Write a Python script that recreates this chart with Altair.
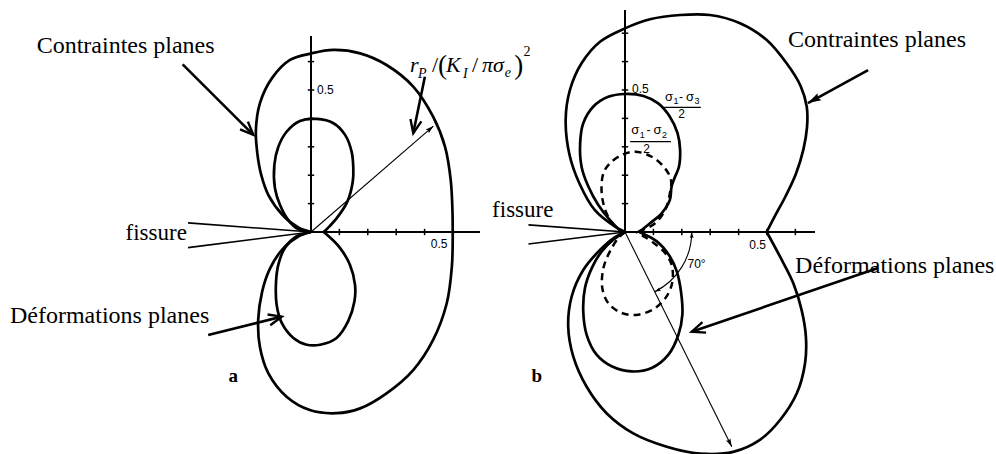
import math
import altair as alt
import pandas as pd

# ---------------------------------------------------------------------------
# Plastic-zone boundaries, r / (K_I / pi sigma_e)^2, one list per half-curve.
# Each half runs from the crack tip round to the point where it meets the
# crack plane again.
# ---------------------------------------------------------------------------
# (a) von Mises -- plane stress (outer) and plane strain (inner)
a_stress_up_x = [0, -0.045, -0.100, -0.150, -0.175, -0.189, -0.194, -0.180, -0.138, -0.074, 0.002,
                 0.079, 0.173, 0.266, 0.360, 0.430, 0.472, 0.492, 0.498, 0.499]
a_stress_up_y = [0, 0.016, 0.060, 0.130, 0.200, 0.277, 0.359, 0.453, 0.541, 0.606, 0.629,
                 0.641, 0.629, 0.588, 0.512, 0.406, 0.300, 0.183, 0.077, 0]
a_stress_lo_x = [0, -0.045, -0.100, -0.145, -0.172, -0.186, -0.180, -0.150, -0.086, -0.004,
                 0.090, 0.173, 0.266, 0.360, 0.430, 0.478, 0.496, 0.499]
a_stress_lo_y = [0, -0.016, -0.060, -0.130, -0.210, -0.310, -0.404, -0.498, -0.580, -0.627,
                 -0.638, -0.621, -0.568, -0.486, -0.380, -0.251, -0.122, 0]
a_strain_up_x = [0, -0.045, -0.080, -0.109, -0.127, -0.129, -0.115, -0.086, -0.039, 0.020,
                 0.079, 0.120, 0.143, 0.149, 0.147, 0.128, 0.090, 0.065, 0.045]
a_strain_up_y = [0, 0.010, 0.042, 0.095, 0.154, 0.236, 0.300, 0.353, 0.391, 0.398,
                 0.383, 0.342, 0.283, 0.224, 0.177, 0.107, 0.048, 0.020, 0]
a_strain_lo_x = [0, -0.050, -0.092, -0.115, -0.123, -0.121, -0.103, -0.062, -0.015, 0.032,
                 0.090, 0.131, 0.153, 0.155, 0.137, 0.102, 0.070, 0.045]
a_strain_lo_y = [0, -0.015, -0.056, -0.115, -0.174, -0.256, -0.320, -0.373, -0.397, -0.397,
                 -0.373, -0.314, -0.244, -0.186, -0.115, -0.056, -0.022, 0]

# (b) Tresca -- plane stress (outer), plane strain (sigma1-sigma3)/2 and (sigma1-sigma2)/2
b_stress_up_x = [0, -0.035, -0.106, -0.160, -0.195, -0.209, -0.194, -0.153, -0.088, 0.000, 0.088,
                 0.194, 0.299, 0.405, 0.499, 0.569, 0.618, 0.640, 0.641, 0.628, 0.602, 0.565, 0.530, 0.499]
b_stress_up_y = [0, 0.019, 0.077, 0.170, 0.270, 0.394, 0.500, 0.594, 0.670, 0.717, 0.749,
                 0.764, 0.764, 0.735, 0.676, 0.594, 0.515, 0.441, 0.370, 0.290, 0.205, 0.125, 0.060, 0]
b_stress_lo_x = [0, -0.041, -0.088, -0.147, -0.188, -0.200, -0.182, -0.135, -0.065, 0.029, 0.147,
                 0.264, 0.381, 0.475, 0.546, 0.605, 0.634, 0.637, 0.622, 0.593, 0.546, 0.499]
b_stress_lo_y = [0, -0.022, -0.063, -0.134, -0.228, -0.333, -0.439, -0.545, -0.638, -0.709, -0.756,
                 -0.780, -0.774, -0.732, -0.662, -0.568, -0.462, -0.369, -0.275, -0.181, -0.087, 0]
b_s13_up_x = [0, -0.018, -0.053, -0.094, -0.129, -0.153, -0.158, -0.147, -0.112, -0.059, 0.000,
              0.065, 0.117, 0.158, 0.185, 0.194, 0.190, 0.174, 0.164, 0.158, 0.129, 0.088, 0.050]
b_s13_up_y = [0, 0.007, 0.042, 0.095, 0.160, 0.230, 0.312, 0.383, 0.441, 0.476, 0.486,
              0.479, 0.453, 0.406, 0.348, 0.289, 0.230, 0.189, 0.160, 0.113, 0.066, 0.031, 0]
b_s13_lo_x = [0, -0.041, -0.082, -0.117, -0.141, -0.147, -0.135, -0.100, -0.047, 0.023,
              0.094, 0.153, 0.188, 0.202, 0.197, 0.182, 0.158, 0.112, 0.050]
b_s13_lo_y = [0, -0.027, -0.068, -0.127, -0.197, -0.279, -0.362, -0.432, -0.473, -0.491,
              -0.479, -0.432, -0.362, -0.291, -0.209, -0.138, -0.086, -0.033, 0]
b_s12_up_x = [0, -0.035, -0.065, -0.082, -0.076, -0.053, -0.012, 0.035, 0.094, 0.141,
              0.162, 0.158, 0.141, 0.106, 0.065, 0.040]
b_s12_up_y = [0, 0.019, 0.066, 0.136, 0.207, 0.242, 0.271, 0.283, 0.265, 0.224,
              0.183, 0.136, 0.077, 0.031, 0.008, 0]
b_s12_lo_x = [0, -0.023, -0.053, -0.076, -0.080, -0.059, -0.012, 0.047, 0.106, 0.147,
              0.167, 0.164, 0.141, 0.094, 0.060, 0.040]
b_s12_lo_y = [0, -0.021, -0.068, -0.127, -0.197, -0.250, -0.285, -0.291, -0.268, -0.226,
              -0.174, -0.115, -0.074, -0.033, -0.012, 0]

# axis extents and tick values
axis_top = {"a": 0.69, "b": 0.782}
axis_right = {"a": 0.595, "b": 0.669}
ticks_v = {"a": [0.1, 0.2, 0.3, 0.4, 0.5, 0.6], "b": [0.1, 0.2, 0.3, 0.4, 0.5, 0.6, 0.7]}
ticks_h = {"a": [0.1, 0.2, 0.3, 0.4, 0.5], "b": [0.1, 0.2, 0.3, 0.4, 0.5, 0.6]}

# crack flanks: start point of each flank line (they end at the crack tip)
crack_x = {"a": [-0.433, -0.433], "b": [-0.340, -0.340]}
crack_y = {"a": [0.032, -0.055], "b": [0.025, -0.042]}

# arrows: panel, start, end, line width, head style
arrow_panel = ["a", "a", "a", "a", "b", "b", "b"]
arrow_x0 = [0.000, 0.401, -0.452, -0.362, 0.000, 0.856, 0.891]
arrow_y0 = [0.000, 0.547, 0.590, -0.363, 0.000, 0.570, -0.127]
arrow_x1 = [0.431, 0.360, -0.203, -0.103, 0.376, 0.644, 0.235]
arrow_y1 = [0.373, 0.348, 0.342, -0.298, -0.756, 0.454, -0.351]
arrow_w = [1.1, 2.6, 2.6, 2.6, 1.1, 2.6, 2.6]
arrow_head = ["filled", "open", "open", "open", "filled", "filled", "open"]

# angle marker in (b): radius of the arc
arc_r = 0.235

# ---------------------------------------------------------------------------
PX = 284.0                     # pixels per unit
W, H = 996, 454
OX_A, OX_B, OY = 311, 625, 232  # crack-tip positions of the two diagrams
X_DOM = [-OX_A / PX, (W - OX_A) / PX]
Y_DOM = [-(H - OY) / PX, OY / PX]
SHIFT = {"a": 0.0, "b": (OX_B - OX_A) / PX}

SERIF = "Liberation Serif"
SANS = "Liberation Sans"

xs = alt.Scale(domain=X_DOM, nice=False, zero=False)
ys = alt.Scale(domain=Y_DOM, nice=False, zero=False)


def X(f):
    return alt.X(f, type="quantitative", scale=xs, axis=None)


def Y(f):
    return alt.Y(f, type="quantitative", scale=ys, axis=None)


# ---- curves ----
curve_defs = [
    ("a", "stress_up", a_stress_up_x, a_stress_up_y, "solid"),
    ("a", "stress_lo", a_stress_lo_x, a_stress_lo_y, "solid"),
    ("a", "strain_up", a_strain_up_x, a_strain_up_y, "solid"),
    ("a", "strain_lo", a_strain_lo_x, a_strain_lo_y, "solid"),
    ("b", "stress_up", b_stress_up_x, b_stress_up_y, "solid"),
    ("b", "stress_lo", b_stress_lo_x, b_stress_lo_y, "solid"),
    ("b", "s13_up", b_s13_up_x, b_s13_up_y, "solid"),
    ("b", "s13_lo", b_s13_lo_x, b_s13_lo_y, "solid"),
    ("b", "s12_up", b_s12_up_x, b_s12_up_y, "dashed"),
    ("b", "s12_lo", b_s12_lo_x, b_s12_lo_y, "dashed"),
]
rows = []
for panel, key, cx, cy, style in curve_defs:
    for i, (x, y) in enumerate(zip(cx, cy)):
        rows.append({"key": panel + key, "gx": x + SHIFT[panel], "y": y, "i": i, "style": style})
curves = pd.DataFrame(rows)

solid = alt.Chart(curves).transform_filter(alt.datum.style == "solid").mark_line(
    color="black", strokeWidth=2.7, interpolate="catmull-rom", clip=True
).encode(x=X("gx"), y=Y("y"), detail="key:N", order="i:Q")

dashed = alt.Chart(curves).transform_filter(alt.datum.style == "dashed").mark_line(
    color="black", strokeWidth=2.5, strokeDash=[7, 5], interpolate="catmull-rom", clip=True
).encode(x=X("gx"), y=Y("y"), detail="key:N", order="i:Q")

# ---- axes, ticks, crack flanks ----
seg = []
TK = 3.2 / PX
for p in ("a", "b"):
    s = SHIFT[p]
    seg.append({"gx": s, "y": 0, "gx2": s, "y2": axis_top[p], "w": 2.0})
    seg.append({"gx": s, "y": 0, "gx2": s + axis_right[p], "y2": 0, "w": 2.0})
    for v in ticks_v[p]:
        seg.append({"gx": s - TK, "y": v, "gx2": s + TK, "y2": v, "w": 1.5})
    for v in ticks_h[p]:
        seg.append({"gx": s + v, "y": -TK, "gx2": s + v, "y2": TK, "w": 1.5})
    for cx0, cy0 in zip(crack_x[p], crack_y[p]):
        seg.append({"gx": s + cx0, "y": cy0, "gx2": s, "y2": 0, "w": 1.6})
for p, x0, y0, x1, y1, w in zip(arrow_panel, arrow_x0, arrow_y0, arrow_x1, arrow_y1, arrow_w):
    seg.append({"gx": SHIFT[p] + x0, "y": y0, "gx2": SHIFT[p] + x1, "y2": y1, "w": w})
segs = pd.DataFrame(seg)

rules = alt.Chart(segs).mark_rule(color="black", strokeCap="butt").encode(
    x=X("gx"), y=Y("y"), x2="gx2:Q", y2="y2:Q",
    strokeWidth=alt.StrokeWidth("w:Q", scale=None),
)

# ---- arrowheads ----
def screen_angle(dx, dy):
    return math.degrees(math.atan2(-dy, dx)) % 360


heads = []
for p, x0, y0, x1, y1, w, kind in zip(arrow_panel, arrow_x0, arrow_y0, arrow_x1, arrow_y1,
                                      arrow_w, arrow_head):
    big = w > 2
    heads.append({"gx": SHIFT[p] + x1, "y": y1, "ang": screen_angle(x1 - x0, y1 - y0),
                  "kind": kind, "size": 700 if big else 260})

# the 70 degree marker: arc from the crack plane to the long radius
line_phi = math.atan2(-arrow_y1[4], arrow_x1[4])      # angle below the crack plane
heads.append({"gx": SHIFT["b"] + arc_r, "y": 0.0, "ang": 270.0, "kind": "filled", "size": 150})
heads.append({"gx": SHIFT["b"] + arc_r * math.cos(line_phi), "y": -arc_r * math.sin(line_phi),
              "ang": (math.degrees(line_phi) + 90) % 360, "kind": "filled", "size": 150})
heads = pd.DataFrame(heads)

OPEN_V = "M-1,-0.42L0,0L-1,0.42"
FILLED_V = "M0,0L-1,-0.3L-0.85,0L-1,0.3Z"

open_heads = alt.Chart(heads).transform_filter(alt.datum.kind == "open").mark_point(
    shape=OPEN_V, filled=False, color="black", strokeWidth=2.4, opacity=1, strokeJoin="miter"
).encode(x=X("gx"), y=Y("y"), angle=alt.Angle("ang:Q", scale=None),
         size=alt.Size("size:Q", scale=None))

filled_heads = alt.Chart(heads).transform_filter(alt.datum.kind == "filled").mark_point(
    shape=FILLED_V, filled=True, color="black", opacity=1
).encode(x=X("gx"), y=Y("y"), angle=alt.Angle("ang:Q", scale=None),
         size=alt.Size("size:Q", scale=None))

arc = alt.Chart(pd.DataFrame({"gx": [SHIFT["b"]], "y": [0.0]})).mark_arc(
    filled=False, stroke="black", strokeWidth=1.1,
    radius=arc_r * PX, radius2=arc_r * PX,
    theta=math.pi / 2, theta2=math.pi / 2 + line_phi,
).encode(x=X("gx"), y=Y("y"))


# ---- text ----
def label(panel, t, x, y, size, font=SERIF, align="left", baseline="alphabetic",
          style="normal", weight="normal"):
    df = pd.DataFrame({"gx": [SHIFT[panel] + x], "y": [y], "t": [t]})
    return alt.Chart(df).mark_text(
        font=font, fontSize=size, align=align, baseline=baseline,
        fontStyle=style, fontWeight=weight, color="black",
    ).encode(x=X("gx"), y=Y("y"), text="t:N")


texts = [
    label("a", "Contraintes planes", -0.966, 0.629, 24),
    label("a", "fissure", -0.437, -0.028, 23, align="right"),
    label("a", "Déformations planes", -1.060, -0.321, 24),
    label("a", "a", -0.274, -0.527, 19, align="center", weight="bold"),
    label("a", "0.5", 0.021, 0.500, 12, font=SANS, baseline="middle"),
    label("a", "0.5", 0.451, -0.042, 12, font=SANS, align="center", baseline="middle"),
    label("b", "fissure", -0.252, 0.054, 23, align="right"),
    label("b", "Contraintes planes", 0.574, 0.651, 24),
    label("b", "Déformations planes", 0.599, -0.144, 24),
    label("b", "b", -0.311, -0.527, 19, align="center", weight="bold"),
    label("b", "0.5", 0.025, 0.502, 12, font=SANS, baseline="middle"),
    label("b", "0.5", 0.467, -0.046, 12, font=SANS, align="center", baseline="middle"),
    label("b", "70°", 0.220, -0.128, 12, font=SANS),
]

# (sigma_i - sigma_j) / 2 fractions: numerator pieces (text, x, y, size)
frac_parts = [
    ("σ", 0.141, 0.461, 13), ("1", 0.171, 0.449, 9), ("-", 0.190, 0.461, 12),
    ("σ", 0.215, 0.461, 13), ("3", 0.245, 0.449, 9),
    ("σ", 0.022, 0.345, 13), ("1", 0.052, 0.331, 9), ("-", 0.076, 0.345, 12),
    ("σ", 0.100, 0.345, 13), ("2", 0.130, 0.331, 9),
]
for t, x, y, size in frac_parts:
    texts.append(label("b", t, x, y, size, font=SANS))
texts.append(label("b", "2", 0.199, 0.400, 12, font=SANS, align="center"))
texts.append(label("b", "2", 0.076, 0.277, 12, font=SANS, align="center"))

# normalised radius label r_P / (K_I / pi sigma_e)^2, built piece by piece
rp_parts = [
    ("r", 0.349, 0.563, 22, "italic"),
    ("P", 0.377, 0.542, 14, "italic"),
    ("/", 0.426, 0.563, 22, "normal"),
    ("(", 0.447, 0.556, 27, "normal"),
    ("K", 0.475, 0.563, 22, "italic"),
    ("I", 0.535, 0.542, 14, "italic"),
    ("/", 0.567, 0.563, 22, "normal"),
    ("π", 0.602, 0.563, 22, "italic"),
    ("σ", 0.641, 0.563, 22, "italic"),
    ("e", 0.682, 0.546, 14, "italic"),
    (")", 0.716, 0.556, 27, "normal"),
    ("2", 0.748, 0.620, 14, "normal"),
]
for t, x, y, size, style in rp_parts:
    texts.append(label("a", t, x, y, size, style=style))

# fraction bars
bars = pd.DataFrame({
    "gx": [SHIFT["b"] + 0.138, SHIFT["b"] + 0.018],
    "gx2": [SHIFT["b"] + 0.267, SHIFT["b"] + 0.162],
    "y": [0.439, 0.318],
})
bar_rules = alt.Chart(bars).mark_rule(color="black", strokeWidth=1.2).encode(
    x=X("gx"), x2="gx2:Q", y=Y("y"))

chart = alt.layer(
    solid, dashed, rules, arc, open_heads, filled_heads, bar_rules, *texts
).properties(
    width=W, height=H, padding=0, background="white",
    autosize=alt.AutoSizeParams(type="fit", contains="padding"),
).configure_view(stroke=None)

chart.save("out.html", embed_options={"renderer": "svg", "actions": False})
